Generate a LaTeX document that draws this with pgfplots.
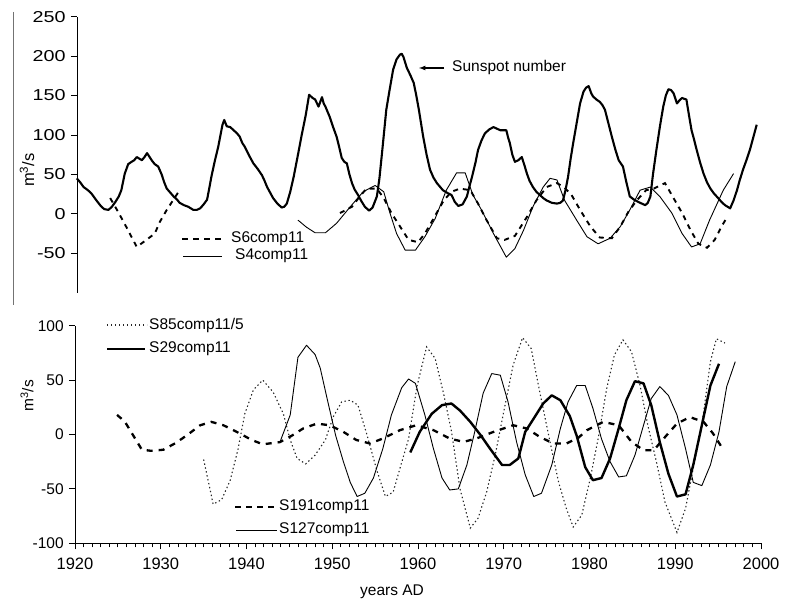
\documentclass[border=0pt]{standalone}
\usepackage{fontspec}
\setmainfont{Liberation Sans}
\usepackage{pgfplots}
\pgfplotsset{compat=1.18}
\begin{document}
\fontsize{15.5}{18}\selectfont
\begin{tikzpicture}
\useasboundingbox (0pt,0pt) rectangle (785pt,600pt);
\tikzset{
  sun/.style={black, line width=2.1pt, line join=round},
  sixc/.style={black, line width=1.9pt, dash pattern=on 5pt off 5pt},
  fourc/.style={black, line width=0.9pt, line join=round},
  oneninec/.style={black, line width=2.3pt, dash pattern=on 6pt off 6pt},
  onetwoc/.style={black, line width=0.9pt, line join=round},
  twoninec/.style={black, line width=2.4pt, line join=round},
  eightc/.style={black!85, line width=1.1pt, dash pattern=on 1.4pt off 2.6pt},
}
\pgfplotsset{
  common/.style={
    scale only axis,
    xmax=2000,
    tick align=outside,
    axis line style={-, line width=0.9pt},
    major tick length=6pt,
    minor tick length=4pt,
    every tick/.style={black, line width=0.8pt},
    /pgf/number format/assume math mode=true,
    /pgf/number format/set thousands separator={},
    clip=false,
  },
}
% ---------- top panel ----------
\begin{axis}[common,
  at={(77pt,307.3pt)}, anchor=south west,
  width=684pt, height=276pt,
  xmin=1920.23, ymin=-100, ymax=250,
  axis x line=none, axis y line*=left,
  ytick={-50,0,50,100,150,200,250},
  yticklabel={\scalebox{1.25}[1]{\fontsize{15.8}{18}\selectfont\pgfmathprintnumber{\tick}}},
]
\addplot[sun] coordinates {
(1920.2,45) (1920.6,40) (1921.0,34) (1921.5,30) (1921.9,26) (1922.5,17) (1923.0,10) (1923.4,6) (1923.9,5) (1924.3,9) (1924.7,15) (1925.1,22) (1925.4,30) (1925.8,51) (1926.2,63) (1926.6,66) (1926.9,68) (1927.2,72) (1927.5,70) (1927.8,68) (1928.1,72) (1928.4,77) (1928.7,72) (1929.0,67) (1929.3,63) (1929.7,60) (1930.1,50) (1930.4,40) (1930.7,32) (1931.1,27) (1931.5,22) (1931.9,18) (1932.2,14) (1932.7,11) (1933.2,9) (1933.8,5) (1934.2,5) (1934.6,7) (1935.0,12) (1935.4,18) (1935.7,35) (1935.9,47) (1936.3,67) (1936.7,85) (1937.0,102) (1937.2,113) (1937.4,119) (1937.7,111) (1938.1,110) (1938.5,106) (1938.9,102) (1939.2,98) (1939.5,90) (1939.8,85) (1940.3,74) (1940.8,64) (1941.3,57) (1941.8,49) (1942.1,42) (1942.4,34) (1942.8,26) (1943.1,20) (1943.6,13) (1944.1,8) (1944.4,9) (1944.7,13) (1945.1,28) (1945.5,47) (1946.0,75) (1946.4,98) (1946.9,125) (1947.3,151) (1947.7,147) (1948.0,145) (1948.4,136) (1948.6,142) (1948.8,148) (1949.0,140) (1949.2,136) (1949.7,123) (1950.1,110) (1950.5,98) (1950.8,85) (1951.1,71) (1951.4,66) (1951.7,64) (1952.0,50) (1952.3,39) (1952.6,31) (1953.0,24) (1953.4,16) (1953.8,9) (1954.3,4) (1954.7,8) (1955.2,22) (1955.5,45) (1955.8,77) (1956.3,132) (1956.7,158) (1957.1,183) (1957.5,196) (1957.9,202) (1958.1,203) (1958.3,199) (1958.7,185) (1959.1,176) (1959.5,166) (1959.8,150) (1960.1,132) (1960.6,98) (1961.0,75) (1961.4,56) (1961.8,46) (1962.2,39) (1962.9,30) (1963.5,26) (1963.9,24) (1964.3,15) (1964.7,10) (1965.2,12) (1965.7,22) (1966.0,35) (1966.3,47) (1966.7,65) (1967.0,81) (1967.4,93) (1967.8,102) (1968.3,107) (1968.8,110) (1969.2,108) (1969.6,106) (1970.3,106) (1970.5,97) (1970.7,90) (1971.0,75) (1971.3,66) (1971.7,68) (1972.1,72) (1972.4,62) (1972.7,51) (1973.0,42) (1973.4,34) (1973.8,28) (1974.2,24) (1974.6,20) (1975.0,17) (1975.6,14) (1976.2,13) (1976.6,14) (1976.9,17) (1977.2,30) (1977.5,47) (1977.8,70) (1978.1,90) (1978.5,115) (1978.9,140) (1979.3,155) (1979.6,160) (1979.9,162) (1980.2,153) (1980.4,149) (1980.8,145) (1981.2,142) (1981.5,138) (1981.8,132) (1982.2,115) (1982.6,98) (1983.0,82) (1983.4,68) (1983.9,60) (1984.3,40) (1984.7,22) (1985.2,18) (1985.7,15) (1986.1,13) (1986.5,11) (1986.8,14) (1987.1,22) (1987.4,50) (1987.8,81) (1988.2,110) (1988.6,136) (1988.9,150) (1989.2,158) (1989.5,157) (1989.8,153) (1990.2,140) (1990.5,144) (1990.8,147) (1991.0,146) (1991.3,145) (1991.6,125) (1991.9,106) (1992.2,94) (1992.5,81) (1992.9,65) (1993.3,51) (1993.7,40) (1994.1,32) (1994.5,26) (1995.0,20) (1995.4,15) (1995.8,11) (1996.1,9) (1996.4,7) (1996.8,17) (1997.2,30) (1997.5,42) (1997.9,56) (1998.3,68) (1998.7,81) (1999.1,97) (1999.5,113)
};
% S6comp11, first segment
\addplot[sixc] coordinates {
(1924.1,20) (1925.0,3) (1926.0,-17) (1927.2,-42) (1928.2,-34) (1929.3,-25) (1929.9,-10) (1930.7,5) (1931.3,15) (1932.2,30)
};
% S6comp11, second segment
\addplot[sixc] coordinates {
(1950.9,1) (1952.3,9) (1953.2,22) (1954.0,32) (1955.2,32) (1956.0,20) (1956.9,1) (1957.9,-16) (1958.9,-33) (1960.0,-36) (1960.8,-25) (1961.6,-10) (1963.0,17) (1963.9,28) (1964.9,32) (1966.1,30) (1967.0,13) (1968.0,-8) (1969.2,-31) (1970.1,-33) (1971.3,-28) (1972.7,-4) (1973.8,17) (1975.0,34) (1976.2,39) (1977.0,34) (1977.9,24) (1978.9,5) (1980.1,-16) (1981.2,-30) (1982.6,-31) (1983.6,-16) (1984.5,2) (1985.5,17) (1986.6,30) (1987.5,32) (1988.8,39) (1989.8,20) (1990.8,1) (1991.8,-21) (1992.7,-38) (1993.7,-43) (1994.6,-33) (1995.4,-16) (1996.0,-5)
};
% S4comp11
\addplot[fourc] coordinates {
(1946.0,-8) (1947.0,-17) (1948.0,-24) (1949.2,-24) (1950.5,-12) (1952.1,9) (1953.6,28) (1955.0,36) (1956.0,28) (1956.7,2) (1957.5,-25) (1958.5,-46) (1959.7,-46) (1960.8,-29) (1962.0,-6) (1963.3,30) (1964.5,52) (1965.5,52) (1966.4,24) (1967.4,5) (1968.8,-25) (1970.3,-55) (1971.3,-44) (1972.3,-21) (1973.4,9) (1974.6,34) (1975.4,45) (1976.2,43) (1977.1,17) (1978.5,-8) (1979.7,-29) (1981.0,-38) (1982.4,-31) (1983.6,-16) (1984.7,5) (1985.9,30) (1987.1,34) (1988.2,22) (1989.6,1) (1990.8,-25) (1991.9,-42) (1992.9,-38) (1994.0,-8) (1995.6,30) (1996.8,51)
};
\end{axis}
% ---------- bottom panel ----------
\begin{axis}[common,
  at={(75pt,56.7pt)}, anchor=south west,
  width=686pt, height=217.6pt,
  xmin=1920, ymin=-100, ymax=100,
  axis x line*=bottom, axis y line*=left,
  xtick={1920,1930,...,2000},
  minor x tick num=9,
  ytick={-100,-50,0,50,100},
  xticklabel style={yshift=-3pt, font=\fontsize{16.5}{19}\selectfont},
]
% S85comp11/5
\addplot[eightc] coordinates {
(1935.0,-23) (1935.9,-56) (1936.1,-64) (1937.1,-60) (1938.1,-42) (1939.0,-14) (1939.8,19) (1940.8,41) (1941.9,50) (1943.1,39) (1944.3,19) (1945.1,-5) (1945.9,-22) (1946.9,-27) (1948.0,-19) (1949.2,-5) (1950.1,16) (1951.1,30) (1952.1,31.5) (1953.0,27) (1954.0,1) (1955.2,-33) (1956.2,-57) (1957.1,-53) (1957.9,-31) (1958.9,-4) (1959.9,45) (1961.0,80.5) (1962.0,70) (1963.0,37) (1963.9,3) (1964.9,-50) (1966.1,-86) (1967.0,-77) (1968.0,-53) (1969.0,-19) (1970.0,21) (1971.1,64) (1972.2,89) (1973.2,79) (1974.2,39) (1975.4,-7) (1976.4,-44) (1977.3,-68) (1978.1,-85) (1979.1,-74) (1980.1,-40) (1981.0,-4) (1982.0,42) (1982.9,73) (1983.9,87) (1984.9,76) (1985.9,45) (1986.8,8.5) (1987.8,-25) (1988.8,-62) (1990.2,-90) (1991.2,-68) (1992.1,-31) (1993.1,8.5) (1994.1,67) (1994.8,88) (1995.8,84)
};
% S191comp11
\addplot[oneninec] coordinates {
(1924.9,18) (1925.8,12) (1926.8,-1) (1927.8,-14) (1928.9,-15) (1930.3,-14) (1931.7,-8) (1933.0,-1) (1934.6,8.5) (1935.9,11.6) (1937.3,8.5) (1938.1,5.5) (1939.2,1) (1940.6,-5) (1941.9,-9) (1943.9,-7) (1945.3,-1) (1946.6,5.5) (1948.2,10) (1949.7,8.5) (1951.3,2.4) (1952.8,-5) (1954.4,-8.3) (1955.9,-3.7) (1957.9,4) (1959.8,8.5) (1961.8,4) (1963.7,-3.7) (1965.3,-6.8) (1966.8,-3.7) (1968.8,2.4) (1971.1,8.5) (1972.7,5.5) (1974.2,-2.2) (1975.8,-8.3) (1977.3,-8.3) (1978.7,-3) (1979.7,4) (1981.6,11.6) (1983.4,8.5) (1984.9,-6.8) (1986.3,-14.4) (1987.5,-14.4) (1989.0,-0.6) (1990.2,10) (1991.7,16) (1993.3,11.6) (1994.4,1) (1995.4,-11.4)
};
% S127comp11
\addplot[onetwoc] coordinates {
(1943.9,-7) (1945.1,18) (1946.0,71) (1947.0,82) (1948.0,73.5) (1948.6,61) (1949.4,33) (1950.4,-1) (1951.3,-25) (1952.1,-44) (1952.9,-57) (1953.8,-54) (1954.8,-40) (1955.9,-13) (1956.9,18) (1958.1,43) (1958.9,51) (1959.7,47) (1960.8,18) (1961.8,-13) (1962.8,-40) (1963.7,-51) (1964.7,-50) (1965.7,-28) (1966.6,2) (1967.6,38) (1968.6,56) (1969.6,54.5) (1970.5,30) (1971.5,-7) (1972.5,-37) (1973.5,-57) (1974.4,-54) (1975.6,-28) (1976.6,5.5) (1977.5,30) (1978.5,45) (1979.5,45) (1980.4,24) (1981.4,-4) (1982.4,-25) (1983.4,-39) (1984.3,-38) (1985.3,-19) (1986.3,8.5) (1987.2,33) (1988.2,44) (1989.2,36) (1990.2,18) (1991.2,-13) (1992.1,-44) (1993.1,-47) (1994.1,-28) (1995.1,2.4) (1996.0,44) (1997.0,67)
};
% S29comp11
\addplot[twoninec] coordinates {
(1959.1,-16.5) (1960.2,2.4) (1961.6,19) (1962.8,27) (1963.9,28.5) (1964.9,22) (1966.1,11.6) (1967.3,-0.6) (1968.4,-13) (1969.8,-28) (1970.7,-28) (1971.7,-22) (1972.5,2.4) (1973.6,16) (1974.6,28.5) (1975.6,36) (1976.6,31.5) (1977.7,17) (1978.5,-1) (1979.5,-30) (1980.4,-42) (1981.4,-40) (1982.4,-22) (1983.4,5.5) (1984.3,31.5) (1985.3,49) (1986.3,47) (1987.2,27) (1988.2,-7) (1989.2,-36) (1990.2,-57) (1991.2,-55) (1992.1,-28) (1993.1,8.5) (1994.1,45) (1995.1,65)
};
\end{axis}
% ---------- labels, legends, annotations ----------
\draw[black!55, line width=0.8pt] (13pt,588pt) -- (13pt,295pt);
\node[rotate=90] at (27pt,430pt) {\fontsize{16.5}{19}\selectfont m\textsuperscript{3}/s};
\node[rotate=90] at (27pt,204pt) {m\textsuperscript{3}/s};
\node at (392pt,8pt) {years AD};
% top legend
\draw[sixc, dash pattern=on 6pt off 5pt] (182pt,361pt) -- (223pt,361pt);
\node[anchor=west, inner sep=0pt] at (231pt,361pt) {S6comp11};
\draw[fourc] (183pt,344pt) -- (222pt,344pt);
\node[anchor=west, inner sep=0pt] at (235pt,344pt) {S4comp11};
% sunspot annotation
\draw[-latex, line width=1.2pt] (444pt,532pt) -- (419pt,532pt);
\node[anchor=west, inner sep=0pt] at (452pt,533pt) {Sunspot number};
% bottom legends
\draw[eightc] (107pt,275pt) -- (147pt,275pt);
\node[anchor=west, inner sep=0pt] at (149pt,275pt) {S85comp11/5};
\draw[twoninec] (107pt,251pt) -- (145pt,251pt);
\node[anchor=west, inner sep=0pt] at (149pt,251pt) {S29comp11};
\draw[oneninec, dash pattern=on 6pt off 5pt] (235pt,93pt) -- (277pt,93pt);
\node[anchor=west, inner sep=0pt] at (279pt,93pt) {S191comp11};
\draw[onetwoc] (236pt,70pt) -- (277pt,70pt);
\node[anchor=west, inner sep=0pt] at (279pt,70pt) {S127comp11};
\end{tikzpicture}
\end{document}
